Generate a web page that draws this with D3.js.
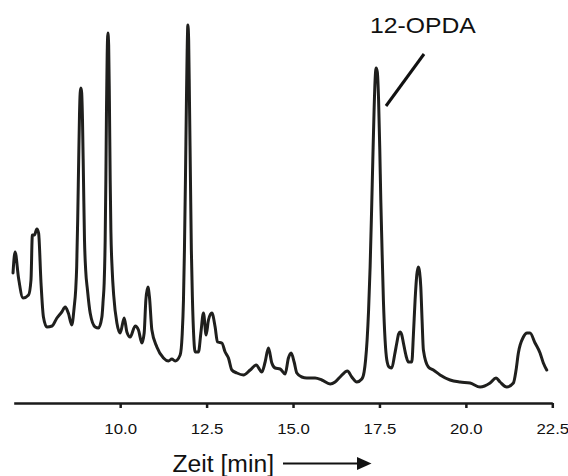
<!DOCTYPE html>
<html>
<head>
<meta charset="utf-8">
<script src="https://cdn.jsdelivr.net/npm/d3@7"></script>
<style>
  html, body { margin: 0; padding: 0; background: #fff; }
  svg { display: block; }
  text { font-family: "Liberation Sans", Arial, Helvetica, sans-serif; fill: #111; }
</style>
</head>
<body>
<svg id="chart" width="568" height="476"></svg>
<script>
// Retention time (min)
const times = [
  6.90, 6.96, 7.06, 7.19, 7.35, 7.42, 7.46, 7.52, 7.59, 7.64,
  7.71, 7.78, 7.88, 8.03, 8.17, 8.31, 8.41, 8.50, 8.60, 8.67,
  8.713, 8.742, 8.771, 8.800, 8.823, 8.843, 8.864, 8.887, 8.910, 8.939,
  8.968, 9.002, 9.054, 9.132, 9.277, 9.372, 9.471, 9.508, 9.537, 9.566,
  9.586, 9.604, 9.624, 9.644, 9.667, 9.688, 9.711, 9.731, 9.769, 9.812,
  9.905, 10.000, 10.116, 10.194, 10.289, 10.434, 10.529, 10.628, 10.694, 10.743,
  10.801, 10.847, 10.917, 11.061, 11.252, 11.397, 11.495, 11.591, 11.735, 11.793,
  11.831, 11.859, 11.888, 11.917, 11.938, 11.958, 11.981, 12.004, 12.033, 12.059,
  12.091, 12.126, 12.169, 12.264, 12.334, 12.409, 12.487, 12.554, 12.652, 12.747,
  12.814, 12.941, 13.036, 13.132, 13.230, 13.375, 13.566, 13.759, 13.933, 14.098,
  14.193, 14.289, 14.387, 14.482, 14.627, 14.772, 14.867, 14.945, 15.032, 15.110,
  15.254, 15.399, 15.639, 15.833, 16.073, 16.217, 16.362, 16.573, 16.700, 16.845,
  16.990, 17.056, 17.099, 17.143, 17.186, 17.230, 17.273, 17.308, 17.345, 17.374,
  17.403, 17.438, 17.475, 17.510, 17.539, 17.568, 17.614, 17.663, 17.713, 17.779,
  17.857, 17.938, 18.002, 18.054, 18.097, 18.146, 18.193, 18.271, 18.337, 18.436,
  18.482, 18.531, 18.580, 18.626, 18.661, 18.696, 18.733, 18.771, 18.915, 19.060,
  19.254, 19.543, 19.832, 20.121, 20.411, 20.700, 20.873, 20.989, 21.183, 21.374,
  21.452, 21.518, 21.663, 21.770, 21.856, 22.001, 22.146, 22.241, 22.339
];
// Detector signal (arbitrary units)
const signal = [
  130, 151, 125, 105, 108, 123, 168, 168, 174, 170,
  120, 86, 76, 77, 85, 91, 96, 90, 78, 96,
  113, 136, 183, 243, 288, 310, 315, 310, 283, 223,
  163, 133, 113, 90, 76, 75, 86, 103, 120, 163,
  223, 293, 348, 370, 358, 303, 223, 173, 133, 108,
  80, 70, 85, 71, 66, 77, 73, 60, 70, 103,
  116, 106, 73, 56, 45, 42, 44, 42, 48, 68,
  103, 153, 223, 303, 353, 378, 363, 303, 223, 153,
  103, 68, 51, 51, 70, 90, 68, 83, 90, 76,
  61, 60, 51, 45, 33, 30, 28, 33, 38, 31,
  41, 55, 40, 35, 34, 29, 45, 50, 41, 30,
  26, 25, 25, 23, 19, 21, 26, 32, 26, 21,
  24, 31, 43, 63, 93, 136, 193, 243, 293, 323,
  335, 331, 303, 253, 203, 163, 103, 63, 43, 36,
  35, 48, 60, 69, 71, 68, 60, 47, 41, 41,
  68, 103, 128, 136, 131, 116, 83, 53, 36, 33,
  28, 23, 21, 20, 16, 20, 25, 21, 16, 20,
  33, 50, 66, 70, 70, 60, 50, 40, 33
];
const tickValues = [10.0, 12.5, 15.0, 17.5, 20.0, 22.5];
const peakLabel = "12-OPDA";
const peakLabelTime = 17.40;
const xLabel = "Zeit [min]";

const svg = d3.select("#chart");
const x = d3.scaleLinear().domain([6.92, 22.5]).range([13.7, 552.3]);
const y = d3.scaleLinear().domain([0, 380]).range([403, 23]);

const data = times.map((t, i) => ({ t, v: signal[i] }));

// Trace
svg.append("path")
  .datum(data)
  .attr("fill", "none")
  .attr("stroke", "#1f1f1d")
  .attr("stroke-width", 3)
  .attr("stroke-linejoin", "round")
  .attr("stroke-linecap", "round")
  .attr("d", d3.line().x(d => x(d.t)).y(d => y(d.v)).curve(d3.curveMonotoneX));

// X axis
const axis = svg.append("g")
  .attr("transform", `translate(0,${y(0)})`)
  .call(d3.axisBottom(x)
    .tickValues(tickValues)
    .tickFormat(d3.format(".1f"))
    .tickSizeInner(5)
    .tickSizeOuter(0)
    .tickPadding(15));
axis.select(".domain").attr("stroke", "#1a1a1a").attr("stroke-width", 2.5);
axis.selectAll(".tick line").attr("stroke", "#1a1a1a").attr("stroke-width", 2.5);
axis.selectAll(".tick text")
  .attr("font-family", "Liberation Sans, Arial, sans-serif")
  .attr("font-size", 15)
  .attr("fill", "#111")
  .attr("transform", "scale(1.12,1)");

// Peak label + leader line
const px = x(peakLabelTime);
svg.append("line")
  .attr("x1", px + 48).attr("y1", 54)
  .attr("x2", px + 10).attr("y2", 106)
  .attr("stroke", "#111").attr("stroke-width", 3);
svg.append("text")
  .attr("transform", `translate(${px - 6},33) scale(1.15,1)`)
  .attr("font-size", 21.5)
  .text(peakLabel);

// X axis title with arrow
svg.append("text")
  .attr("transform", "translate(172.5,471.5) scale(1.06,1)")
  .attr("font-size", 23.3)
  .text(xLabel);
svg.append("line")
  .attr("x1", 283).attr("y1", 463.5)
  .attr("x2", 359).attr("y2", 463.5)
  .attr("stroke", "#111").attr("stroke-width", 2);
svg.append("path")
  .attr("d", "M357,457 L371.5,463.5 L357,470 Z")
  .attr("fill", "#111");
</script>
</body>
</html>
